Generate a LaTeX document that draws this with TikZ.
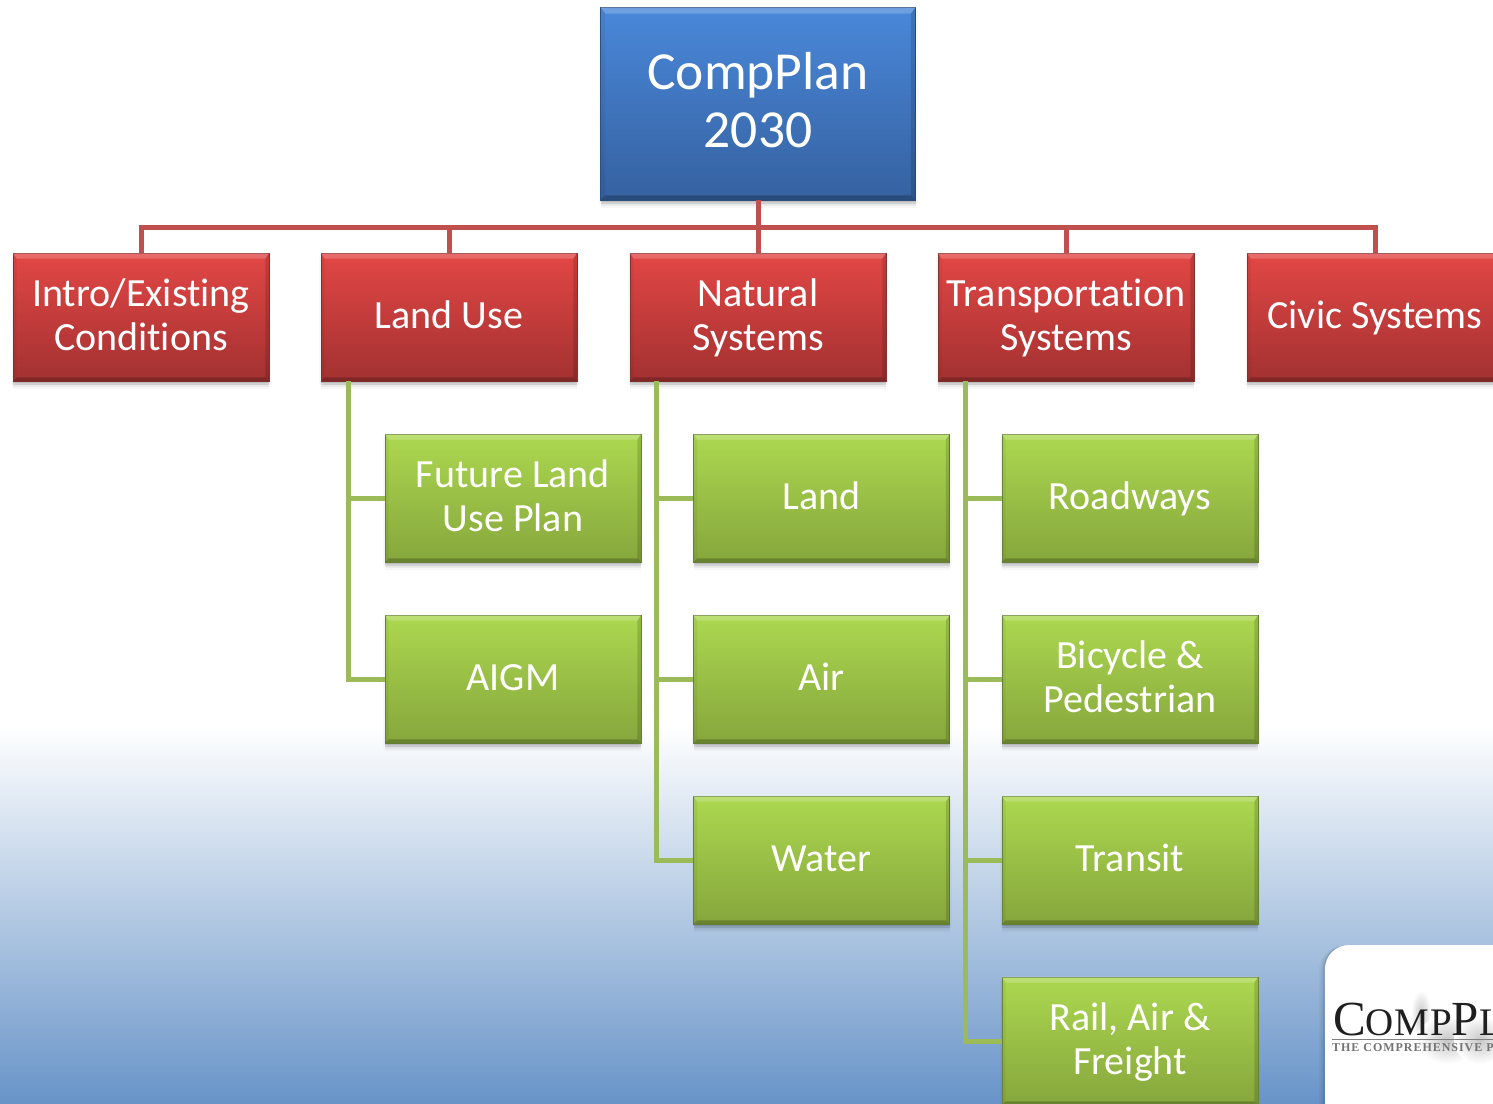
\documentclass[tikz,border=0pt]{standalone}
\usepackage{fontspec}
\setmainfont[Ligatures=CommonOff]{Carlito}
\newfontfamily\logofont{Liberation Serif}
\usetikzlibrary{shadows}
\definecolor{redline}{HTML}{C0504D}
\definecolor{greenline}{HTML}{9BBB59}
\definecolor{blueTop}{HTML}{4A88DA}
\definecolor{blueBot}{HTML}{3561A0}
\definecolor{blueEdge}{HTML}{2F5587}
\definecolor{redTop}{HTML}{E24745}
\definecolor{redBot}{HTML}{A33131}
\definecolor{redEdge}{HTML}{8A3432}
\definecolor{greenTop}{HTML}{ACD850}
\definecolor{greenBot}{HTML}{86A63C}
\definecolor{greenEdge}{HTML}{6C8A3A}
\definecolor{bgblue}{HTML}{6894C8}
\newcommand\labelstrut[1]{\rule[-.3\baselineskip]{0pt}{#1\baselineskip}}
% two-line labels: fix the extent of the text block so that all sit alike
\newcommand\twolabel[2]{\rule{0pt}{.8\baselineskip}#1\\#2\rule[-.3\baselineskip]{0pt}{.3\baselineskip}}
\tikzset{
  softshadow/.style={
    general shadow={shadow xshift=2pt,shadow yshift=-4pt,fill=black,opacity=.025},
    general shadow={shadow xshift=-2pt,shadow yshift=-4pt,fill=black,opacity=.025},
    general shadow={shadow xshift=0pt,shadow yshift=-8pt,fill=black,opacity=.03},
    general shadow={shadow xshift=0pt,shadow yshift=-6pt,fill=black,opacity=.05},
    general shadow={shadow xshift=0pt,shadow yshift=-4pt,fill=black,opacity=.07},
    general shadow={shadow xshift=0pt,shadow yshift=-2pt,fill=black,opacity=.09}},
  oneline/.style={execute at begin node=\labelstrut{1.135},execute at end node=\labelstrut{1.135}},
  twolines/.style={execute at begin node={},execute at end node={}},
  boxbase/.style={softshadow,inner sep=0pt,align=center,text=white,minimum width=256pt,minimum height=128pt,
     line width=.8pt,oneline},
  rootbox/.style={boxbase,minimum width=315pt,minimum height=193pt,draw=blueEdge,top color=blueTop,bottom color=blueBot,
     font=\fontsize{53.5}{58}\selectfont,twolines},
  redbox/.style={boxbase,draw=redEdge,top color=redTop,bottom color=redBot,font=\fontsize{40}{44}\selectfont},
  greenbox/.style={boxbase,draw=greenEdge,top color=greenTop,bottom color=greenBot,font=\fontsize{40}{44}\selectfont},
  redlink/.style={draw=redline,line width=5pt},
  greenlink/.style={draw=greenline,line width=5pt},
}
% bevel: node name, top band depth, side depth
\newcommand\bevelbox[3]{%
  \fill[white,opacity=.2] (#1.north west) -- (#1.north east) -- ([xshift=-#3pt,yshift=-#2pt]#1.north east) -- ([xshift=#3pt,yshift=-#2pt]#1.north west) -- cycle;
  \fill[black,opacity=.05] (#1.north west) -- ([xshift=#3pt,yshift=-#2pt]#1.north west) -- ([xshift=#3pt,yshift=#3pt]#1.south west) -- (#1.south west) -- cycle;
  \fill[black,opacity=.14] (#1.north east) -- ([xshift=-#3pt,yshift=-#2pt]#1.north east) -- ([xshift=-#3pt,yshift=#3pt]#1.south east) -- (#1.south east) -- cycle;
  \fill[black,opacity=.22] (#1.south west) -- ([xshift=#3pt,yshift=#3pt]#1.south west) -- ([xshift=-#3pt,yshift=#3pt]#1.south east) -- (#1.south east) -- cycle;
}
\begin{document}
\begin{tikzpicture}[x=1pt,y=-1pt]
\useasboundingbox (0,0) rectangle (1493,1103);
\clip (0,0) rectangle (1493,1103);
\fill[white] (0,0) rectangle (1493,1103);
\shade[top color=white,bottom color=bgblue] (0,725) rectangle (1493,1103);

% logo
\node[general shadow={shadow xshift=-6pt,shadow yshift=-1pt,fill=black,opacity=.03},
      general shadow={shadow xshift=-4pt,shadow yshift=-1pt,fill=black,opacity=.05},
      general shadow={shadow xshift=-2pt,shadow yshift=0pt,fill=black,opacity=.07},
      fill=white,rounded corners=24pt,inner sep=0pt,minimum width=230pt,minimum height=190pt] (logo) at (1440,1040) {};
\shade[inner color=black!22,outer color=white] (1421,1014) ellipse (10 and 24);
\shade[inner color=black!22,outer color=white] (1447,1040) ellipse (30 and 24);
\shade[inner color=black!22,outer color=white] (1480,1040) ellipse (26 and 24);
\node[anchor=base west,inner sep=0pt,text=black!88] (logotitle) at (1333,1035) {\logofont\addfontfeatures{LetterSpace=2}\fontsize{49}{49}\selectfont C\fontsize{39}{39}\selectfont OMP\fontsize{49}{49}\selectfont P\fontsize{39}{39}\selectfont LAN};
\coordinate (logoruleA) at (1332,1039);
\coordinate (logoruleB) at (1493,1039);
\draw[black!50,line width=.8pt] (logoruleA) -- (logoruleB);
\node[anchor=base west,inner sep=0pt,text=black!55] (logosub) at (1332,1051) {\logofont\addfontfeatures{LetterSpace=8}\bfseries\fontsize{12}{12}\selectfont THE COMPREHENSIVE PLAN};

% boxes
\node[rootbox] (root) at (758,103.5) {\twolabel{CompPlan}{2030}};
\node[redbox,twolines] (intro) at (141,317) {\twolabel{Intro/Existing}{Conditions}};
\node[redbox] (landuse) at (449,317) {Land Use};
\node[redbox,twolines] (natural) at (758,317) {\twolabel{Natural}{Systems}};
\node[redbox,twolines] (transport) at (1066,317) {\twolabel{Transportation}{Systems}};
\node[redbox] (civic) at (1375,317) {Civic Systems};
\node[greenbox,twolines] (flu) at (513,498) {\twolabel{Future Land}{Use Plan}};
\node[greenbox] (aigm) at (513,679) {AIGM};
\node[greenbox] (land) at (821.5,498) {Land};
\node[greenbox] (air) at (821.5,679) {Air};
\node[greenbox] (water) at (821.5,860) {Water};
\node[greenbox] (road) at (1130,498) {Roadways};
\node[greenbox,twolines] (bike) at (1130,679) {\twolabel{Bicycle \&}{Pedestrian}};
\node[greenbox] (transit) at (1130,860) {Transit};
\node[greenbox,twolines] (rail) at (1130,1041) {\twolabel{Rail, Air \&}{Freight}};

\bevelbox{root}{7}{5}
\foreach \n in {intro,landuse,natural,transport,civic,flu,aigm,land,air,water,road,bike,transit,rail}{\bevelbox{\n}{6}{4}}

% connectors
\coordinate (bus) at (758,227);
\draw[redlink] (root.south) -- (bus) -| (intro.north);
\draw[redlink] (bus) -| (landuse.north);
\draw[redlink] (bus) -- (natural.north);
\draw[redlink] (bus) -| (transport.north);
\draw[redlink] (bus) -| (civic.north);
\coordinate (spineA) at (348,381);
\coordinate (spineB) at (656.5,381);
\coordinate (spineC) at (965,381);
\draw[greenlink] (spineA) |- (flu.west);
\draw[greenlink] (spineA) |- (aigm.west);
\draw[greenlink] (spineB) |- (land.west);
\draw[greenlink] (spineB) |- (air.west);
\draw[greenlink] (spineB) |- (water.west);
\draw[greenlink] (spineC) |- (road.west);
\draw[greenlink] (spineC) |- (bike.west);
\draw[greenlink] (spineC) |- (transit.west);
\draw[greenlink] (spineC) |- (rail.west);
\end{tikzpicture}
\end{document}
